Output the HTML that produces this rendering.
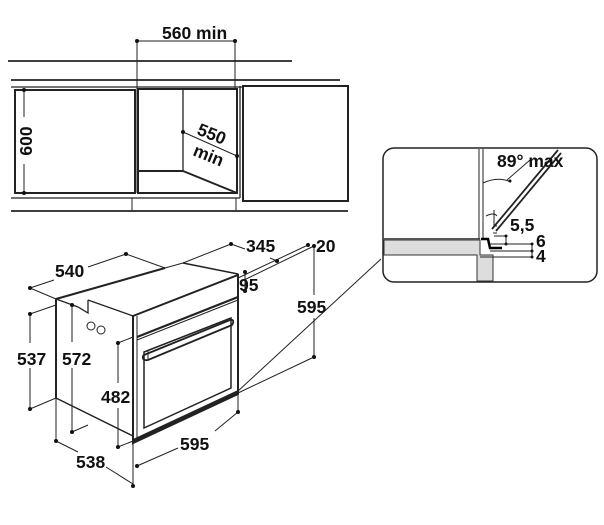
<!DOCTYPE html>
<html><head><meta charset="utf-8"><style>
html,body{margin:0;padding:0;background:#fff}
svg{display:block}
text{font-family:"Liberation Sans",sans-serif;font-weight:bold;font-size:17.5px;fill:#111}
</style></head><body>
<svg width="604" height="525" viewBox="0 0 604 525" xmlns="http://www.w3.org/2000/svg">
<g stroke="#222" fill="none" stroke-width="1">
<!-- Top cabinet drawing -->
<line x1="8" y1="61" x2="292" y2="61" stroke-width="1.8"/>
<line x1="11" y1="80" x2="340" y2="80" stroke-width="1.8"/>
<line x1="11" y1="87" x2="242" y2="87" stroke-width="1.3"/>
<rect x="15" y="90" width="120" height="103" stroke-width="2"/>
<rect x="138" y="89" width="99" height="104" stroke-width="2"/>
<line x1="183" y1="89" x2="183" y2="171" stroke-width="1.3"/>
<line x1="138" y1="171" x2="183" y2="171" stroke-width="2"/>
<line x1="183" y1="171" x2="237" y2="193" stroke-width="2"/>
<rect x="243" y="86" width="105" height="115" stroke-width="2"/>
<line x1="240" y1="86" x2="240" y2="198" stroke-width="1.3"/>
<line x1="11" y1="198" x2="240" y2="198" stroke-width="1.3"/>
<line x1="11" y1="211" x2="348" y2="211" stroke-width="1.8"/>
<line x1="132" y1="198" x2="132" y2="211"/>
<line x1="236" y1="198" x2="236" y2="211"/>
<!-- 560 dim -->
<line x1="137" y1="41" x2="235" y2="41"/>
<line x1="137" y1="41" x2="137" y2="193"/>
<line x1="235" y1="41" x2="235" y2="88"/>
<!-- 600 dim -->
<line x1="24" y1="90" x2="24" y2="117"/>
<line x1="24" y1="164" x2="24" y2="193"/>
<!-- 550 dim -->
<line x1="183" y1="132" x2="237" y2="156"/>

<!-- Oven -->
<line x1="56" y1="299" x2="165" y2="268" stroke-width="2"/>
<line x1="165" y1="268" x2="183" y2="263"/>
<line x1="183" y1="263" x2="238" y2="274" stroke-width="1.5"/>
<line x1="56" y1="299" x2="56" y2="398" stroke-width="2"/>
<line x1="56" y1="398" x2="133" y2="436" stroke-width="1.5"/>
<polyline points="56,299 78,307 88,313 88,300" stroke-width="1.3"/>
<line x1="88" y1="300" x2="133" y2="316" stroke-width="1.3"/>
<polygon points="133,316 238,275 238,394 133,443" stroke-width="2"/>
<line x1="137" y1="316" x2="137" y2="441"/>
<line x1="137" y1="337" x2="238" y2="297" stroke-width="2.2"/>
<line x1="137" y1="340" x2="238" y2="300"/>
<polygon points="144,352 231,318 231,388 144,428" stroke-width="1.5"/>
<path d="M144,355 L230,320 Q234,319 233,323 L232,325 L148,360 Q142,361 143,356 Z" stroke-width="1.8"/>
<path d="M148,360 L148,351"/>
<line x1="133" y1="441" x2="238" y2="392" stroke-width="3.5"/>
<circle cx="91" cy="326" r="4"/>
<circle cx="101" cy="330" r="4"/>
<!-- oven dims -->
<line x1="30" y1="288" x2="54" y2="280"/>
<line x1="88" y1="267" x2="126" y2="254"/>
<line x1="30" y1="288" x2="56" y2="299"/>
<line x1="126" y1="254" x2="165" y2="268"/>
<line x1="183" y1="263" x2="231" y2="244"/>
<line x1="231" y1="244" x2="245" y2="249"/>
<line x1="270" y1="258" x2="277" y2="261"/>
<line x1="238" y1="278" x2="308" y2="245"/>
<line x1="240" y1="282" x2="314" y2="246"/>
<line x1="245" y1="272" x2="245" y2="291"/>
<line x1="314" y1="245" x2="314" y2="295"/>
<line x1="314" y1="318" x2="314" y2="357"/>
<line x1="238" y1="393" x2="314" y2="357"/>
<line x1="237" y1="392" x2="381" y2="259"/>
<line x1="30" y1="314" x2="56" y2="305"/>
<line x1="30" y1="314" x2="30" y2="343"/>
<line x1="30" y1="368" x2="30" y2="409"/>
<line x1="30" y1="409" x2="56" y2="398"/>
<line x1="72" y1="305" x2="72" y2="342"/>
<line x1="72" y1="368" x2="72" y2="432"/>
<line x1="72" y1="432" x2="88" y2="425"/>
<line x1="118" y1="343" x2="133" y2="337"/>
<line x1="118" y1="343" x2="118" y2="383"/>
<line x1="118" y1="408" x2="118" y2="447"/>
<line x1="118" y1="447" x2="133" y2="441"/>
<line x1="56" y1="398" x2="56" y2="441"/>
<line x1="56" y1="441" x2="78" y2="452"/>
<line x1="106" y1="467" x2="133" y2="484"/>
<line x1="133" y1="443" x2="133" y2="486"/>
<line x1="238" y1="394" x2="238" y2="412"/>
<line x1="137" y1="466" x2="178" y2="448"/>
<line x1="215" y1="431" x2="238" y2="412"/>
</g>
<g fill="#111">
<circle cx="137" cy="41" r="2"/><circle cx="235" cy="41" r="2"/>
<circle cx="24" cy="90" r="2"/><circle cx="24" cy="193" r="2"/>
<circle cx="183" cy="132" r="2"/><circle cx="237" cy="156" r="2"/>
<circle cx="30" cy="288" r="2"/><circle cx="126" cy="254" r="2"/>
<circle cx="231" cy="244" r="2"/><circle cx="277" cy="261" r="2"/>
<circle cx="308" cy="245" r="2"/><circle cx="314" cy="246" r="2"/>
<circle cx="245" cy="272" r="2"/><circle cx="245" cy="291" r="2"/>
<circle cx="314" cy="357" r="2"/>
<circle cx="30" cy="314" r="2"/><circle cx="30" cy="409" r="2"/>
<circle cx="72" cy="305" r="2"/><circle cx="72" cy="432" r="2"/>
<circle cx="118" cy="343" r="2"/><circle cx="118" cy="447" r="2"/>
<circle cx="56" cy="441" r="2"/><circle cx="133" cy="486" r="2"/>
<circle cx="137" cy="466" r="2"/><circle cx="238" cy="412" r="2"/>
</g>
<text x="162" y="39">560 min</text>
<text transform="translate(32,141) rotate(-90)" text-anchor="middle">600</text>
<text transform="translate(196,134) rotate(22)">550</text>
<text transform="translate(192,155) rotate(22)">min</text>
<text x="55" y="277">540</text>
<text x="246" y="252">345</text>
<text x="316" y="252">20</text>
<text x="239" y="291">95</text>
<text x="297" y="313">595</text>
<text x="17" y="365">537</text>
<text x="62" y="365">572</text>
<text x="101" y="403">482</text>
<text x="180" y="450">595</text>
<text x="76" y="468">538</text>

<!-- detail box -->
<g stroke="#222" fill="none">
<rect x="383" y="148" width="214" height="134" rx="11" stroke-width="1.5"/>
</g>
<path d="M384,240 H480 V255 H493 V281 H477 V255 H384 Z" fill="#ddd" stroke="#333" stroke-width="1"/>
<line x1="384" y1="255" x2="477" y2="255" stroke="#333"/>
<line x1="477" y1="255" x2="477" y2="281" stroke="#333"/>
<line x1="384" y1="239" x2="480" y2="239" stroke="#555" stroke-width="2"/>
<g stroke="#222" fill="none">
<line x1="479" y1="149" x2="479" y2="239"/>
<line x1="483" y1="149" x2="483" y2="239"/>
<line x1="492" y1="229" x2="558" y2="150" stroke-width="1.8"/>
<line x1="496" y1="231" x2="561" y2="153" stroke-width="1.8"/>
<line x1="493" y1="233" x2="497" y2="233"/>
<path d="M483,183 Q498,176 511,182"/>
<line x1="507" y1="180" x2="530" y2="160"/>
<path d="M494,210 L494,226 L497,226"/>
<path d="M486,216 Q494,212 497,216"/>
<polyline points="481,239 488,239 490,248 502,248" stroke-width="2.5" stroke="#000"/>
<line x1="494" y1="236" x2="506" y2="236"/>
<line x1="506" y1="236" x2="506" y2="244"/>
<line x1="490" y1="244" x2="532" y2="244"/>
<line x1="490" y1="251" x2="532" y2="251"/>
<line x1="480" y1="257" x2="532" y2="257"/>
<line x1="532" y1="244" x2="532" y2="257"/>
</g>
<g fill="#111">
<circle cx="506" cy="236" r="1.5"/><circle cx="506" cy="244" r="1.5"/>
<circle cx="532" cy="244" r="1.5"/><circle cx="532" cy="251" r="1.5"/><circle cx="532" cy="257" r="1.5"/>
<circle cx="510" cy="181" r="1.5"/>
</g>
<text x="497" y="167">89° max</text>
<text x="510" y="231">5,5</text>
<text x="536" y="247">6</text>
<text x="536" y="262">4</text>
</svg>
</body></html>
